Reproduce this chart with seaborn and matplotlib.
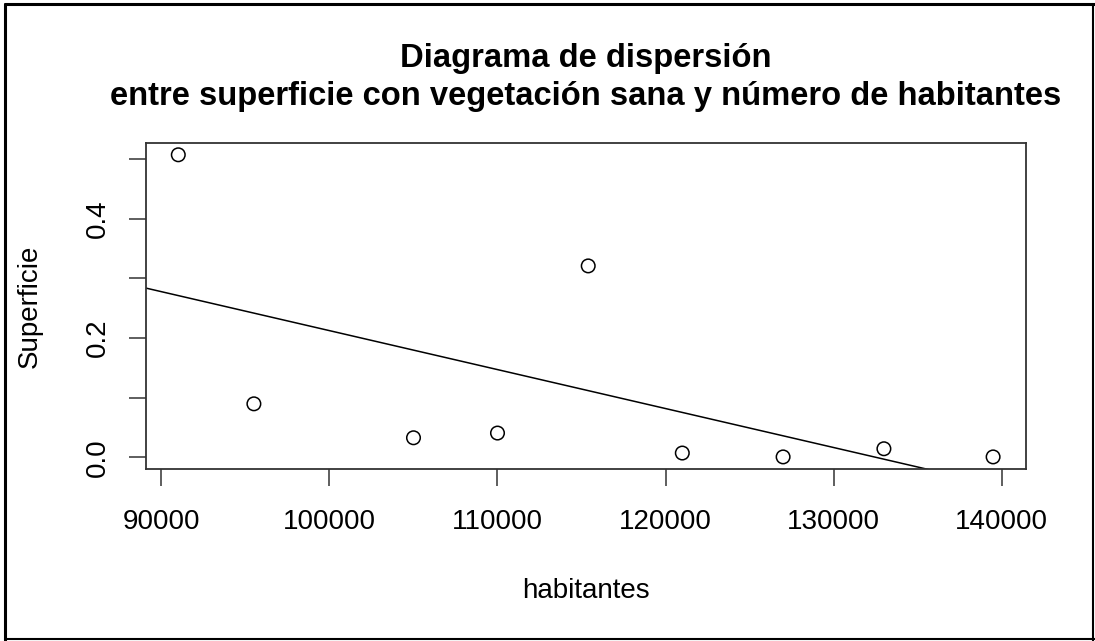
import numpy as np
import pandas as pd
import matplotlib
matplotlib.use("Agg")
import matplotlib.pyplot as plt
from matplotlib.lines import Line2D
import seaborn as sns

# Observations: inhabitants vs. area with healthy vegetation
habitantes = [91000, 95500, 105000, 110000, 115400, 121000, 127000, 133000, 139500]
superficie = [0.507, 0.0895, 0.0326, 0.0405, 0.3207, 0.0070, 0.0005, 0.0142, 0.0005]

x_ticks = [90000, 100000, 110000, 120000, 130000, 140000]
y_ticks = [0.0, 0.1, 0.2, 0.3, 0.4, 0.5]
y_tick_labels = ["0.0", "", "0.2", "", "0.4", ""]

titulo_1 = "Diagrama de dispersión"
titulo_2 = "entre superficie con vegetación sana y número de habitantes"
x_label = "habitantes"
y_label = "Superficie"

df = pd.DataFrame({"habitantes": habitantes, "superficie": superficie})

sns.set_theme(style="white")
plt.rcParams["font.family"] = ["Liberation Sans", "DejaVu Sans"]

W, H = 1095, 641
fig = plt.figure(figsize=(W / 100, H / 100), dpi=100)
fig.patch.set_facecolor("white")

# plot region in pixels
left, right, top, bottom = 145.7, 1025.7, 142.7, 469.0
pw, ph = right - left, bottom - top
ax = fig.add_axes([left / W, 1 - bottom / H, pw / W, ph / H])

# R-style 4% padding around the data range
def padded(vals):
    lo, hi = min(vals), max(vals)
    d = (hi - lo) * 0.04
    return lo - d, hi + d

ax.set_xlim(*padded(habitantes))
ax.set_ylim(*padded(superficie))

sns.scatterplot(data=df, x="habitantes", y="superficie", ax=ax, marker="o",
                s=95, facecolor="none", edgecolor="black", linewidth=1.1,
                legend=False, zorder=3)
sns.regplot(data=df, x="habitantes", y="superficie", ax=ax, scatter=False,
            ci=None, truncate=False, color="black",
            line_kws={"linewidth": 1.1})

ax.set_xlim(*padded(habitantes))
ax.set_ylim(*padded(superficie))

ax.set_xticks(x_ticks)
ax.set_xticklabels([str(v) for v in x_ticks])
ax.set_yticks(y_ticks)
ax.set_yticklabels(y_tick_labels, rotation=90, va="center")

ax.tick_params(axis="both", which="both", direction="out", length=12.5,
               width=1.1, color="#333333", labelsize=20, labelcolor="black",
               bottom=True, left=True)
ax.tick_params(axis="x", pad=16)
ax.tick_params(axis="y", pad=12.5)

for sp in ax.spines.values():
    sp.set_visible(True)
    sp.set_color("#333333")
    sp.set_linewidth(1.3)

ax.set_xlabel(x_label, fontsize=20, color="black")
ax.set_ylabel(y_label, fontsize=20, color="black")
ax.xaxis.label.set_va("baseline")
ax.yaxis.label.set_va("baseline")
ax.xaxis.set_label_coords(0.5, -(598 - bottom) / ph)
ax.yaxis.set_label_coords(-(left - 37) / pw, 0.5)
ax.grid(False)

# two-line bold title centred over the plot region
cx = (left + right) / 2 / W
fig.text(cx, 1 - 67 / H, titulo_1, ha="center", va="baseline",
         fontsize=23.6, fontweight="bold", color="black")
fig.text(cx, 1 - 105 / H, titulo_2, ha="center", va="baseline",
         fontsize=23.6, fontweight="bold", color="black")

# outer frame around the whole image
frame = dict(color="black", transform=fig.transFigure, figure=fig)
fig.lines.extend([
    Line2D([5 / W, 5 / W], [0, 1 - 4 / H], linewidth=2.2, **frame),
    Line2D([5 / W, 1], [1 - 4 / H, 1 - 4 / H], linewidth=2.2, **frame),
    Line2D([1 - 2 / W, 1 - 2 / W], [0, 1 - 4 / H], linewidth=1.5, **frame),
    Line2D([5 / W, 1], [2 / H, 2 / H], linewidth=1.5, **frame),
])

fig.savefig("out.png", dpi=100)
